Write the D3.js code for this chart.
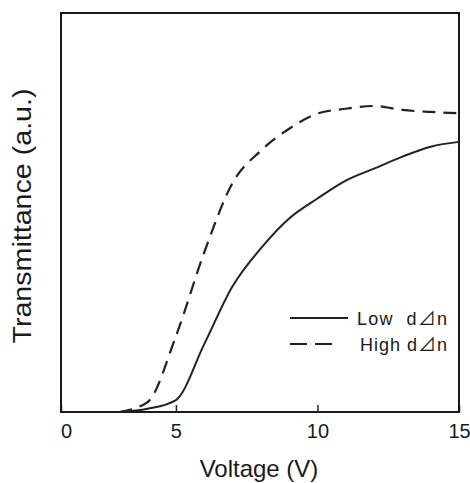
<!DOCTYPE html>
<html>
<head>
<meta charset="utf-8">
<script src="https://cdn.jsdelivr.net/npm/d3@7"></script>
<style>
  body { margin: 0; background: #fff; }
  text { font-family: "Liberation Sans", Arial, "Noto Sans CJK JP", sans-serif; fill: #1a1a1a; }
</style>
</head>
<body>
<div id="chart"></div>
<script>
// values
let voltages = [3, 4, 5, 6, 7, 8, 9, 10, 11, 12, 13, 14, 15];
let lowDn = [0, 0.008, 0.03, 0.17, 0.315, 0.41, 0.485, 0.535, 0.58, 0.61, 0.64, 0.665, 0.677];
let highDn = [0, 0.025, 0.19, 0.40, 0.574, 0.655, 0.71, 0.748, 0.76, 0.767, 0.757, 0.752, 0.749];
let xTicks = [5, 10, 15];
let legendNames = ["Low  d\u22BFn", "High d\u22BFn"];

let w = 470;
let h = 483;
let plotLeft = 61, plotRight = 459, plotTop = 13, plotBottom = 412;
let xStart = 0.94; // left edge of the frame is a bit right of 0

let viz = d3.select("#chart")
  .append("svg")
  .attr("width", w)
  .attr("height", h);

let xScale = d3.scaleLinear()
  .domain([xStart, 15])
  .range([plotLeft, plotRight]);
let yScale = d3.scaleLinear()
  .domain([0, 1])
  .range([plotBottom, plotTop]);

// x axis, ticks pointing inward
let xAxis = d3.axisBottom(xScale)
  .tickValues([xStart].concat(xTicks))
  .tickFormat(function (d) { return d == xStart ? "0" : d; })
  .tickSizeInner(-7)
  .tickSizeOuter(0)
  .tickPadding(12);
let xAxisGroup = viz.append("g")
  .attr("transform", "translate(0," + plotBottom + ")")
  .call(xAxis);
xAxisGroup.select(".domain").remove();
xAxisGroup.selectAll("line").attr("stroke", "#222").attr("stroke-width", 1.5);
xAxisGroup.selectAll("text")
  .attr("font-size", 20)
  .attr("fill", "#1a1a1a")
  .attr("dx", function (d) { return d == xStart ? 5 : 0; });

// frame
viz.append("rect")
  .attr("x", plotLeft)
  .attr("y", plotTop)
  .attr("width", plotRight - plotLeft)
  .attr("height", plotBottom - plotTop)
  .attr("fill", "none")
  .attr("stroke", "#1a1a1a")
  .attr("stroke-width", 2);

// curves
let line = d3.line()
  .x(function (d) { return xScale(d[0]); })
  .y(function (d) { return yScale(d[1]); })
  .curve(d3.curveMonotoneX);

viz.append("path")
  .datum(voltages.map(function (v, i) { return [v, lowDn[i]]; }))
  .attr("d", line)
  .attr("fill", "none")
  .attr("stroke", "#222")
  .attr("stroke-width", 2);

viz.append("path")
  .datum(voltages.map(function (v, i) { return [v, highDn[i]]; }))
  .attr("d", line)
  .attr("fill", "none")
  .attr("stroke", "#222")
  .attr("stroke-width", 2.2)
  .attr("stroke-dasharray", "13,8");

// legend
let legend = viz.append("g");
legend.append("line")
  .attr("x1", 290).attr("x2", 348)
  .attr("y1", 318).attr("y2", 318)
  .attr("stroke", "#222").attr("stroke-width", 2);
legend.append("line")
  .attr("x1", 290).attr("x2", 333)
  .attr("y1", 344).attr("y2", 344)
  .attr("stroke", "#222").attr("stroke-width", 2)
  .attr("stroke-dasharray", "17,8");
legend.append("text")
  .attr("x", 357).attr("y", 325)
  .attr("font-size", 18)
  .attr("textLength", 90)
  .style("white-space", "pre")
  .text(legendNames[0]);
legend.append("text")
  .attr("x", 360).attr("y", 351)
  .attr("font-size", 18)
  .attr("textLength", 87)
  .style("white-space", "pre")
  .text(legendNames[1]);

// axis titles
viz.append("text")
  .attr("x", (plotLeft + plotRight) / 2 - 1)
  .attr("y", 477)
  .attr("text-anchor", "middle")
  .attr("font-size", 24)
  .text("Voltage (V)");
viz.append("text")
  .attr("transform", "translate(31,216) rotate(-90)")
  .attr("text-anchor", "middle")
  .attr("font-size", 25)
  .attr("textLength", 255)
  .attr("lengthAdjust", "spacingAndGlyphs")
  .text("Transmittance (a.u.)");
</script>
</body>
</html>
